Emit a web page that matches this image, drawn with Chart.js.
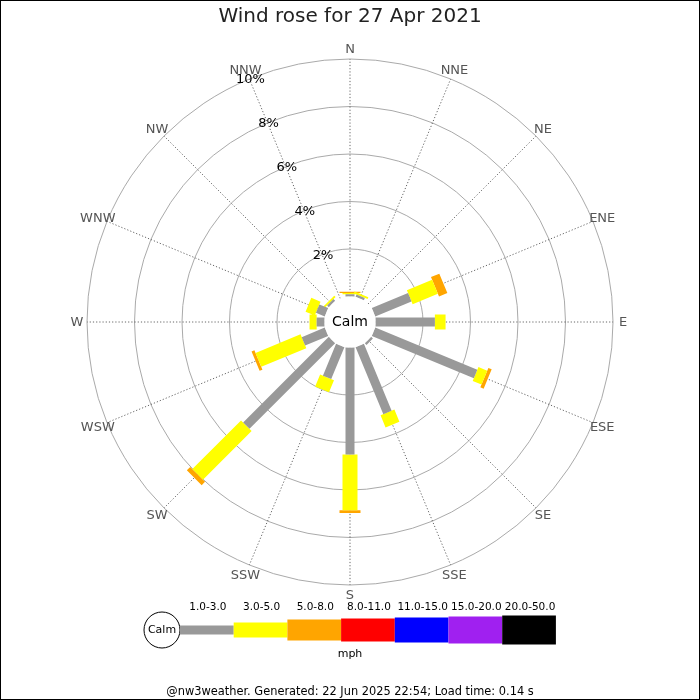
<!DOCTYPE html>
<html>
<head>
<meta charset="utf-8">
<title>Wind rose</title>
<script src="https://cdn.jsdelivr.net/npm/chart.js@4"></script>
<style>
  html, body { margin: 0; padding: 0; background: #fff; }
  canvas { display: block; }
</style>
</head>
<body>
<canvas id="windrose" width="700" height="700"></canvas>
<script>
// wind directions, clockwise from north
var directions = ['N', 'NNE', 'NE', 'ENE', 'E', 'ESE', 'SE', 'SSE',
                  'S', 'SSW', 'SW', 'WSW', 'W', 'WNW', 'NW', 'NNW'];

// % of time per direction for each speed band (mph)
var band1to3  = [0.10, 0.10, 0, 1.65, 2.50, 4.65, 0.10, 3.05, 4.50, 1.45, 5.10, 1.05, 0.33, 0.40, 0.10, 0];
var band3to5  = [0.05, 0.08, 0, 1.15, 0.45, 0.40, 0,    0.55, 2.35, 0.55, 2.90, 2.05, 0.30, 0.42, 0.08, 0];
var band5to8  = [0.05, 0,    0, 0.38, 0,    0.15, 0,    0,    0.12, 0,    0.20, 0.13, 0,    0,    0,    0];

var bandLabels = ['1.0-3.0', '3.0-5.0', '5.0-8.0', '8.0-11.0', '11.0-15.0', '15.0-20.0', '20.0-50.0'];
var bandColours = ['#999999', '#ffff00', '#ffa500', '#ff0000', '#0000ff', '#a020f0', '#000000'];
var bandWidths = [9, 15, 21, 23, 25, 27, 29];

var ringTicks = [2, 4, 6, 8, 10];

// layout
var W = 700, H = 700;
var CX = 350, CY = 322;
var PX_PER_PCT = 23.75;
var CALM_PX = 25.5;
var CALM = CALM_PX / PX_PER_PCT;

function rad(p) { return CALM + p; }

var bands = [band1to3, band3to5, band5to8];
var datasets = [];
var cum = directions.map(function () { return 0; });
bands.forEach(function (band, b) {
  var pts = [];
  band.forEach(function (v, i) {
    if (v > 0) {
      var a = i * Math.PI / 8;
      var r0 = rad(cum[i]), r1 = rad(cum[i] + v);
      pts.push({ x: r0 * Math.sin(a), y: r0 * Math.cos(a) });
      pts.push({ x: r1 * Math.sin(a), y: r1 * Math.cos(a) });
      pts.push({ x: NaN, y: NaN });
    }
    cum[i] += v;
  });
  datasets.push({
    label: bandLabels[b],
    data: pts,
    showLine: true,
    spanGaps: false,
    borderColor: bandColours[b],
    borderWidth: bandWidths[b],
    borderCapStyle: 'butt',
    pointRadius: 0,
    tension: 0
  });
});

var FONT = '"DejaVu Sans", sans-serif';

var rosePlugin = {
  id: 'rose',
  beforeDatasetsDraw: function (chart) {
    var ctx = chart.ctx, sx = chart.scales.x, sy = chart.scales.y;
    var cx = sx.getPixelForValue(0), cy = sy.getPixelForValue(0);
    ctx.save();
    ctx.fillStyle = '#fff';
    ctx.fillRect(0, 0, W, H);
    ctx.strokeStyle = '#aaaaaa';
    ctx.lineWidth = 1;
    ringTicks.forEach(function (t) {
      var r = sx.getPixelForValue(rad(t)) - cx;
      ctx.beginPath();
      ctx.arc(cx, cy, r, 0, Math.PI * 2);
      ctx.stroke();
    });
    var rOut = sx.getPixelForValue(rad(ringTicks[ringTicks.length - 1])) - cx;
    ctx.strokeStyle = '#555';
    ctx.lineWidth = 0.9;
    ctx.setLineDash([1.2, 2]);
    directions.forEach(function (d, i) {
      var a = i * Math.PI / 8;
      ctx.beginPath();
      ctx.moveTo(cx + CALM_PX * Math.sin(a), cy - CALM_PX * Math.cos(a));
      ctx.lineTo(cx + rOut * Math.sin(a), cy - rOut * Math.cos(a));
      ctx.stroke();
    });
    ctx.restore();
  },
  afterDatasetsDraw: function (chart) {
    var ctx = chart.ctx, sx = chart.scales.x, sy = chart.scales.y;
    var cx = sx.getPixelForValue(0), cy = sy.getPixelForValue(0);
    var rOut = sx.getPixelForValue(rad(ringTicks[ringTicks.length - 1])) - cx;
    ctx.save();
    // calm circle
    ctx.fillStyle = '#fff';
    ctx.beginPath();
    ctx.arc(cx, cy, CALM_PX, 0, Math.PI * 2);
    ctx.fill();
    ctx.textAlign = 'center';
    ctx.textBaseline = 'middle';
    ctx.fillStyle = '#000';
    ctx.font = '14px ' + FONT;
    ctx.fillText('Calm', cx, cy);

    // direction labels
    ctx.font = '13px ' + FONT;
    ctx.fillStyle = '#555';
    directions.forEach(function (d, i) {
      var a = i * Math.PI / 8, r = rOut + 10;
      ctx.fillText(d, cx + r * Math.sin(a), cy - r * Math.cos(a) + 1);
    });

    // % labels along NNW
    ctx.fillStyle = '#000';
    var aL = -Math.PI / 8;
    ringTicks.forEach(function (t) {
      var r = sx.getPixelForValue(rad(t)) - cx;
      ctx.fillText(t + '%', cx + r * Math.sin(aL) + 1, cy - r * Math.cos(aL) + 1);
    });

    // title
    ctx.fillStyle = '#222';
    ctx.font = '20px ' + FONT;
    ctx.fillText('Wind rose for 27 Apr 2021', W / 2, 17);

    // legend
    var ly = 630, lx = 180, step = 53.7;
    ctx.strokeStyle = '#000';
    ctx.lineWidth = 1;
    ctx.beginPath();
    ctx.arc(162, ly, 18, 0, Math.PI * 2);
    ctx.stroke();
    ctx.fillStyle = '#000';
    ctx.font = '11px ' + FONT;
    ctx.fillText('Calm', 162, ly);
    ctx.font = '10.5px ' + FONT;
    bandLabels.forEach(function (lab, b) {
      var x0 = lx + b * step;
      ctx.fillStyle = bandColours[b];
      ctx.fillRect(x0, ly - bandWidths[b] / 2, step, bandWidths[b]);
      ctx.fillStyle = '#000';
      ctx.fillText(lab, x0 + step / 2 + 1, 607);
    });
    ctx.font = '11px ' + FONT;
    ctx.fillText('mph', W / 2, 654);
    ctx.font = '11.4px ' + FONT;
    ctx.fillText('@nw3weather. Generated: 22 Jun 2025 22:54; Load time: 0.14 s', W / 2, 692);

    // frame
    ctx.strokeStyle = '#000';
    ctx.strokeRect(0.5, 0.5, W - 1, H - 1);
    ctx.restore();
  }
};

new Chart(document.getElementById('windrose').getContext('2d'), {
  type: 'scatter',
  data: { datasets: datasets },
  options: {
    responsive: false,
    animation: false,
    events: [],
    layout: { padding: 0 },
    scales: {
      x: { type: 'linear', display: false, min: -CX / PX_PER_PCT, max: (W - CX) / PX_PER_PCT },
      y: { type: 'linear', display: false, min: -(H - CY) / PX_PER_PCT, max: CY / PX_PER_PCT }
    },
    plugins: {
      legend: { display: false },
      tooltip: { enabled: false },
      title: { display: false }
    }
  },
  plugins: [rosePlugin]
});
</script>
</body>
</html>
